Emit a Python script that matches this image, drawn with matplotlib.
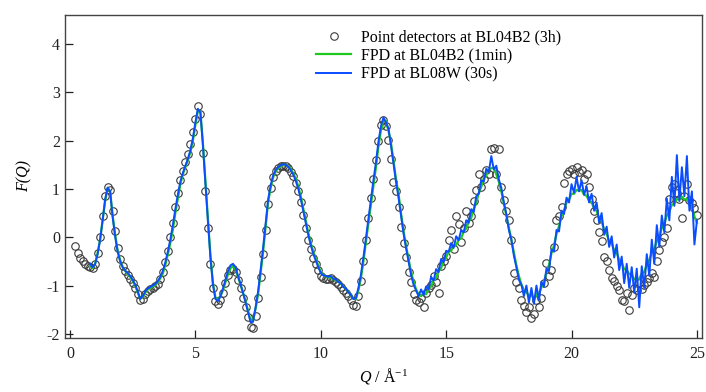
import numpy as np
import matplotlib
matplotlib.use("Agg")
import matplotlib.pyplot as plt

plt.rcParams["font.family"] = ["Liberation Serif", "DejaVu Serif"]
plt.rcParams["mathtext.fontset"] = "custom"
plt.rcParams["mathtext.rm"] = "Liberation Serif"
plt.rcParams["mathtext.it"] = "Liberation Serif:italic"
plt.rcParams["axes.unicode_minus"] = False

# point detectors at BL04B2 (3h): F(Q) on a 0.1 A^-1 grid starting at Q = 0.2
q0_pd = 0.2
f_pd = [
    -0.19, -0.32, -0.42, -0.50, -0.55, -0.59, -0.62, -0.64,
    -0.56, -0.32, 0.00, 0.45, 0.85, 1.05, 0.98, 0.55, 0.12, -0.22,
    -0.45, -0.60, -0.70, -0.78, -0.86, -0.94, -1.05, -1.18, -1.30, -1.28,
    -1.18, -1.12, -1.08, -1.05, -1.01, -0.96, -0.86, -0.72, -0.52, -0.28,
    0.00, 0.30, 0.62, 0.92, 1.18, 1.38, 1.55, 1.72, 1.92, 2.18,
    2.45, 2.72, 2.55, 1.75, 0.95, 0.20, -0.55, -1.05, -1.32, -1.38,
    -1.30, -1.15, -0.95, -0.78, -0.67, -0.66, -0.72, -0.88, -1.05, -1.25,
    -1.45, -1.65, -1.85, -1.88, -1.62, -1.25, -0.82, -0.35, 0.15, 0.68,
    1.02, 1.25, 1.38, 1.44, 1.47, 1.48, 1.47, 1.43, 1.36, 1.26,
    1.12, 0.95, 0.72, 0.46, 0.20, -0.05, -0.25, -0.42, -0.56, -0.68,
    -0.80, -0.85, -0.87, -0.86, -0.85, -0.88, -0.92, -0.97, -1.03, -1.09,
    -1.15, -1.22, -1.30, -1.40, -1.42, -1.22, -0.90, -0.50, -0.05, 0.40,
    0.82, 1.20, 1.60, 2.00, 2.32, 2.42, 2.30, 2.02, 1.62, 1.15,
    0.95, 0.62, 0.22, -0.12, -0.40, -0.72, -0.92, -1.18, -1.30, -1.33,
    -1.26, -1.44, -1.15, -1.05, -0.98, -0.80, -0.92, -1.16, -0.60, -0.50,
    -0.38, -0.05, 0.15, -0.25, 0.43, 0.28, -0.10, 0.20, 0.55, 0.30,
    0.45, 0.75, 0.98, 1.30, 1.05, 1.20, 1.40, 1.30, 1.82, 1.85,
    1.30, 1.82, 1.05, 0.77, 0.55, 0.36, -0.05, -0.75, -0.92, -1.05,
    -1.30, -1.42, -1.54, -1.45, -1.67, -1.58, -1.30, -1.45, -1.26, -0.95,
    -0.53, -0.80, -0.68, -0.20, 0.36, 0.45, 0.63, 1.12, 1.30, 1.38,
    1.42, 1.30, 1.45, 1.35, 1.40, 1.20, 1.30, 1.05, 0.80, 0.55,
    0.36, 0.10, -0.08, -0.40, -0.50, -0.68, -0.85, -0.90, -1.00, -1.10,
    -1.30, -1.32, -1.15, -1.50, -1.20, -1.05, -1.10, -0.95, -1.08, -0.98,
    -0.92, -0.85, -0.75, -0.82, -0.50, -0.26, -0.10, 0.01, 0.20, 0.80,
    1.05, 1.10, 0.92, 0.80, 0.39, 0.85, 1.10, 0.77, 0.70, 0.60,
    0.46,
]

# FPD at BL04B2 (1min): F(Q) on a 0.1 grid starting at Q = 0.8
q0_fpd = 0.8
f_fpd1 = [
    -0.58, -0.64,
    -0.55, -0.33, -0.05, 0.35, 0.75, 1.01, 0.95, 0.45, 0.05, -0.28,
    -0.47, -0.62, -0.70, -0.76, -0.82, -0.90, -1.00, -1.14, -1.27, -1.24,
    -1.15, -1.08, -1.05, -1.02, -0.99, -0.93, -0.85, -0.75, -0.58, -0.36,
    -0.12, 0.15, 0.50, 0.80, 1.10, 1.30, 1.45, 1.60, 1.76, 2.00,
    2.32, 2.62, 2.60, 1.95, 1.15, 0.38, -0.38, -0.95, -1.25, -1.30,
    -1.22, -1.10, -0.93, -0.77, -0.64, -0.60, -0.66, -0.82, -0.98, -1.15,
    -1.32, -1.52, -1.72, -1.72, -1.48, -1.18, -0.75, -0.30, 0.20, 0.72,
    1.02, 1.24, 1.36, 1.43, 1.47, 1.50, 1.50, 1.47, 1.41, 1.33,
    1.21, 1.06, 0.85, 0.60, 0.35, 0.10, -0.12, -0.30, -0.45, -0.58,
    -0.72, -0.78, -0.81, -0.83, -0.84, -0.86, -0.89, -0.92, -0.96, -1.02,
    -1.07, -1.13, -1.20, -1.27, -1.28, -1.10, -0.85, -0.50, -0.10, 0.29,
    0.68, 1.08, 1.45, 1.88, 2.22, 2.42, 2.40, 2.20, 1.95, 1.58,
    1.20, 0.90, 0.50, 0.12, -0.18, -0.45, -0.72, -0.92, -1.08, -1.18,
    -1.22, -1.16, -1.18, -1.06, -1.02, -0.88, -0.84, -0.70, -0.64, -0.48,
    -0.42, -0.30, -0.28, -0.18, -0.16, -0.05, -0.02, 0.12, 0.18, 0.32,
    0.40, 0.59, 0.71, 0.92, 1.04, 1.22, 1.28, 1.40, 1.43, 1.44,
    1.30, 1.15, 0.95, 0.70, 0.45, 0.20, -0.05, -0.32, -0.58, -0.80,
    -0.98, -1.10, -1.13, -1.22, -1.18, -1.30, -1.18, -1.17, -1.03, -0.92,
    -0.73, -0.57, -0.33, -0.17, 0.07, 0.23, 0.44, 0.56, 0.72, 0.78,
    0.90, 0.90, 0.98, 0.96, 0.98, 0.88, 0.86, 0.75, 0.72, 0.60,
    0.54, 0.40, 0.32, 0.16, 0.07, -0.08, -0.13, -0.27, -0.32, -0.47,
    -0.53, -0.66, -0.68, -0.76, -0.78, -0.87, -0.86, -0.86, -0.75, -0.72,
    -0.56, -0.47, -0.31, -0.24, -0.08, 0.02, 0.19, 0.28, 0.45, 0.53,
    0.67, 0.70, 0.79, 0.78, 0.84, 0.78, 0.79, 0.68, 0.62, 0.43,
    0.30,
]

# FPD at BL08W (30s): F(Q) on a 0.1 grid starting at Q = 0.8
f_fpd2 = [
    -0.55, -0.62,
    -0.56, -0.35, -0.05, 0.35, 0.78, 1.03, 0.95, 0.42, 0.02, -0.30,
    -0.50, -0.62, -0.69, -0.74, -0.80, -0.88, -0.98, -1.12, -1.28, -1.22,
    -1.12, -1.06, -1.03, -1.00, -0.97, -0.91, -0.82, -0.70, -0.52, -0.30,
    -0.05, 0.25, 0.58, 0.88, 1.15, 1.33, 1.48, 1.62, 1.80, 2.05,
    2.38, 2.66, 2.58, 1.90, 1.10, 0.33, -0.42, -0.98, -1.28, -1.32,
    -1.22, -1.06, -0.88, -0.70, -0.58, -0.55, -0.62, -0.80, -0.97, -1.15,
    -1.35, -1.55, -1.76, -1.75, -1.45, -1.12, -0.68, -0.22, 0.28, 0.78,
    1.07, 1.28, 1.39, 1.45, 1.49, 1.51, 1.50, 1.46, 1.39, 1.30,
    1.17, 1.01, 0.80, 0.55, 0.30, 0.05, -0.16, -0.34, -0.48, -0.62,
    -0.74, -0.79, -0.80, -0.82, -0.80, -0.86, -0.87, -0.93, -0.95, -1.03,
    -1.06, -1.14, -1.19, -1.28, -1.26, -1.05, -0.78, -0.42, -0.02, 0.38,
    0.78, 1.18, 1.55, 1.98, 2.30, 2.48, 2.38, 2.25, 1.90, 1.52,
    1.15, 0.82, 0.45, 0.08, -0.22, -0.50, -0.78, -0.98, -1.10, -1.22,
    -1.08, -1.20, -1.02, -1.08, -0.82, -0.90, -0.66, -0.72, -0.45, -0.52,
    -0.28, -0.30, -0.12, -0.22, 0.02, -0.06, 0.15, 0.10, 0.35, 0.30,
    0.58, 0.52, 0.85, 0.90, 1.18, 1.15, 1.42, 1.35, 1.68, 1.40,
    1.48, 1.20, 1.02, 0.72, 0.48, 0.15, -0.05, -0.38, -0.62, -0.88,
    -0.98, -1.22, -1.00, -1.35, -1.05, -1.38, -1.00, -1.30, -0.92, -1.02,
    -0.65, -0.70, -0.25, -0.30, 0.15, 0.12, 0.55, 0.48, 0.82, 0.72,
    1.10, 0.92, 1.25, 0.95, 1.18, 0.88, 1.05, 0.72, 0.90, 0.55,
    0.72, 0.30, 0.50, 0.05, 0.22, -0.20, 0.02, -0.42, -0.15, -0.68,
    -0.40, -0.95, -0.55, -1.05, -0.62, -1.15, -0.65, -1.45, -0.60, -1.05,
    -0.35, -0.80, -0.05, -0.55, 0.25, -0.20, 0.45, 0.10, 0.80, 0.35,
    1.25, 0.65, 1.70, 0.75, 1.45, 0.85, 1.68, 0.55, 0.95, -0.15,
    0.35,
]

q_pd = np.round(q0_pd + 0.1 * np.arange(len(f_pd)), 2)
q_fpd1 = np.round(q0_fpd + 0.1 * np.arange(len(f_fpd1)), 2)
q_fpd2 = np.round(q0_fpd + 0.1 * np.arange(len(f_fpd2)), 2)

labels = ["Point detectors at BL04B2 (3h)", "FPD at BL04B2 (1min)", "FPD at BL08W (30s)"]

fig = plt.figure(figsize=(7.06, 3.92), dpi=100)
ax = fig.add_axes([0.0917, 0.1378, 0.9022, 0.8239])

ax.plot(q_pd, f_pd, "o", ms=5.4, mfc="none", mec="#3a3a3a", mew=0.8, label=labels[0])
ax.plot(q_fpd1, f_fpd1, color="#1ec81e", lw=1.6, label=labels[1])
ax.plot(q_fpd2, f_fpd2, color="#0a4dff", lw=1.4, label=labels[2])

ax.set_xlim(-0.21, 25.19)
ax.set_ylim(-2.085, 4.6)
ax.set_xticks([0, 5, 10, 15, 20, 25])
ax.set_yticks([-2, -1, 0, 1, 2, 3, 4])
ax.tick_params(direction="in", length=6, width=0.9, labelsize=11.5, colors="#222222")
ax.tick_params(axis="x", pad=6)
for s in ax.spines.values():
    s.set_color("#444444")
    s.set_linewidth(1.0)

ax.set_xlabel(r"$\mathit{Q}$ / Å$^{\mathregular{-1}}$", fontsize=11.5, labelpad=3)
ax.set_ylabel("F(Q)", fontsize=11.5, fontstyle="italic", labelpad=10)

ax.legend(loc="upper left", bbox_to_anchor=(0.39, 0.965), frameon=False,
          fontsize=11.5, handlelength=2.2, handletextpad=0.6, labelspacing=0.15,
          borderaxespad=0, borderpad=0.2)

fig.savefig("out.png", dpi=100)
